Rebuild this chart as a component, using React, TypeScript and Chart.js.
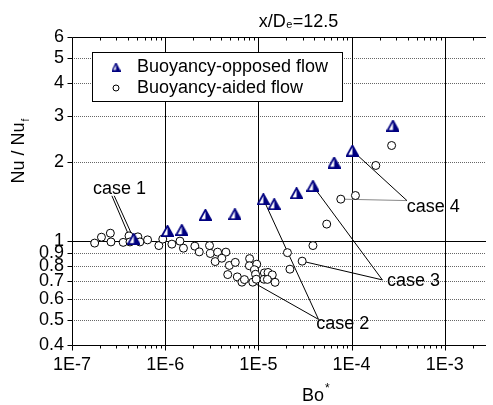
import React, { useEffect, useRef } from "react";
import { Chart, registerables } from "chart.js";
Chart.register(...registerables);

const FONT = "'Liberation Sans', Arial, Helvetica, sans-serif";
const NAVY = "#000080";

const seriesLabels = ["Buoyancy-opposed flow", "Buoyancy-aided flow"];

const opposedX = [4.6e-7, 1.06e-6, 1.51e-6, 2.7e-6, 5.6e-6, 1.13e-5, 1.48e-5, 2.57e-5, 3.85e-5, 6.5e-5, 1.02e-4, 2.78e-4];
const opposedY = [1.017, 1.091, 1.1, 1.256, 1.264, 1.442, 1.38, 1.52, 1.62, 1.99, 2.21, 2.75];

const aidedX = [
  1.75e-7, 2.07e-7, 2.58e-7, 2.62e-7, 3.54e-7, 4.09e-7, 4.19e-7, 5.09e-7, 5.35e-7, 6.47e-7,
  8.55e-7, 9.42e-7, 1.18e-6, 1.44e-6, 1.57e-6, 2.08e-6, 2.32e-6, 2.99e-6, 3.05e-6, 3.65e-6,
  4.48e-6, 3.44e-6, 4.05e-6, 4.88e-6, 5.65e-6, 4.69e-6, 5.94e-6, 6.66e-6, 7.08e-6, 8.05e-6,
  8.0e-6, 9.6e-6, 9.1e-6, 9.32e-6, 8.71e-6, 9.48e-6, 1.16e-5, 1.27e-5, 1.41e-5, 1.15e-5,
  1.25e-5, 1.51e-5, 2.05e-5, 2.18e-5, 2.95e-5, 3.85e-5, 5.41e-5, 7.66e-5, 1.1e-4, 1.82e-4, 2.69e-4,
];
const aidedY = [
  0.98, 1.032, 1.069, 0.99, 0.986, 1.044, 0.99, 1.035, 0.99, 1.008,
  0.959, 1.015, 0.971, 0.997, 0.937, 0.954, 0.907, 0.959, 0.894, 0.905,
  0.905, 0.833, 0.858, 0.805, 0.827, 0.743, 0.728, 0.695, 0.711, 0.855,
  0.803, 0.814, 0.775, 0.745, 0.695, 0.713, 0.754, 0.757, 0.741, 0.713,
  0.712, 0.694, 0.901, 0.779, 0.836, 0.959, 1.158, 1.442, 1.489, 1.939, 2.311,
];

const xMin = 1e-7;
const xMax = 2.77e-3;
const yMin = 0.4;
const yMax = 6;
const xTickValues = [1e-7, 1e-6, 1e-5, 1e-4, 1e-3];
const xTickLabels = ["1E-7", "1E-6", "1E-5", "1E-4", "1E-3"];
const yTickValues = [0.4, 0.5, 0.6, 0.7, 0.8, 0.9, 1, 2, 3, 4, 5, 6];
const yTickLabels = ["0.4", "0.5", "0.6", "0.7", "0.8", "0.9", "1", "2", "3", "4", "5", "6"];

const caseNames = ["case 1", "case 2", "case 3", "case 4"];
const caseTextX = [1.68e-7, 4.17e-5, 2.4e-4, 3.91e-4];
const caseTextY = [1.58, 0.481, 0.703, 1.348];

// leader lines: from label anchor to a data point
const leaderFromX = [2.68e-7, 2.84e-7, 4.42e-5, 4.42e-5, 2.14e-4, 2.14e-4, 3.93e-4, 3.93e-4];
const leaderFromY = [1.485, 1.485, 0.501, 0.501, 0.709, 0.709, 1.424, 1.424];
const leaderToX = [4.09e-7, 4.6e-7, 1.13e-5, 8.71e-6, 3.85e-5, 2.95e-5, 1.02e-4, 7.66e-5];
const leaderToY = [1.044, 1.017, 1.442, 0.695, 1.62, 0.836, 2.21, 1.442];
const leaderGray = [false, false, false, false, false, false, false, true];

function makeTri(w: number, h: number, lw: number) {
  const c = document.createElement("canvas");
  c.width = w;
  c.height = h;
  const g = c.getContext("2d")!;
  const p = lw / 2;
  const ax = w / 2, ay = p, blx = p, by = h - p, brx = w - p;
  g.beginPath(); g.moveTo(ax, ay); g.lineTo(brx, by); g.lineTo(blx, by); g.closePath();
  g.fillStyle = "#fff"; g.fill();
  g.beginPath(); g.moveTo(ax, ay); g.lineTo(brx, by); g.lineTo(ax, by); g.closePath();
  g.fillStyle = NAVY; g.fill();
  g.beginPath(); g.moveTo(ax, ay); g.lineTo(brx, by); g.lineTo(blx, by); g.closePath();
  g.lineWidth = lw; g.strokeStyle = NAVY; g.lineJoin = "miter"; g.stroke();
  return c;
}

export default function App() {
  const ref = useRef<HTMLCanvasElement | null>(null);

  useEffect(() => {
    const canvas = ref.current;
    if (!canvas) return;
    const tri = makeTri(13, 12, 1.8);
    const triSmall = makeTri(9, 9, 1.4);

    const minorX: number[] = [];
    xTickValues.forEach((d) => {
      for (let m = 2; m <= 9; m++) if (d * m <= xMax) minorX.push(d * m);
    });

    const framePlugin = {
      id: "frame",
      beforeDraw(chart: any) {
        const ctx = chart.ctx;
        ctx.save();
        ctx.fillStyle = "#fff";
        ctx.fillRect(0, 0, chart.width, chart.height);
        ctx.restore();
      },
      beforeDatasetsDraw(chart: any) {
        const { ctx, chartArea, scales } = chart;
        const { left, right, top, bottom } = chartArea;
        const x = scales.x, y = scales.y;
        ctx.save();
        ctx.lineWidth = 1;
        yTickValues.forEach((v) => {
          if (v === yMin || v === yMax) return;
          const py = Math.round(y.getPixelForValue(v)) + 0.5;
          ctx.beginPath();
          if (v === 1) { ctx.setLineDash([]); ctx.strokeStyle = "#000"; }
          else { ctx.setLineDash([1, 1]); ctx.strokeStyle = "#666"; }
          ctx.moveTo(left, py); ctx.lineTo(right, py); ctx.stroke();
        });
        ctx.setLineDash([]);
        ctx.strokeStyle = "#000";
        xTickValues.forEach((v) => {
          if (v === xMin) return;
          const px = Math.round(x.getPixelForValue(v)) + 0.5;
          ctx.beginPath(); ctx.moveTo(px, top); ctx.lineTo(px, bottom); ctx.stroke();
        });
        ctx.restore();
      },
      afterDraw(chart: any) {
        const { ctx, chartArea, scales } = chart;
        const { left, right, top, bottom } = chartArea;
        const x = scales.x, y = scales.y;
        ctx.save();
        ctx.strokeStyle = "#000";
        ctx.lineWidth = 1;
        const L = Math.round(left) + 0.5;
        const B = Math.round(bottom) + 0.5;
        const T = Math.round(top) + 0.5;
        ctx.beginPath();
        ctx.moveTo(L, T); ctx.lineTo(L, B);
        ctx.moveTo(L, B); ctx.lineTo(right, B);
        ctx.moveTo(L, T); ctx.lineTo(right, T);
        // left ticks
        yTickValues.forEach((v) => {
          const py = Math.round(y.getPixelForValue(v)) + 0.5;
          ctx.moveTo(L - 5, py); ctx.lineTo(L, py);
        });
        // bottom & top ticks
        xTickValues.forEach((v) => {
          const px = Math.round(x.getPixelForValue(v)) + 0.5;
          ctx.moveTo(px, B); ctx.lineTo(px, B + 5);
        });
        minorX.forEach((v) => {
          const px = Math.round(x.getPixelForValue(v)) + 0.5;
          ctx.moveTo(px, B); ctx.lineTo(px, B + 3);
          ctx.moveTo(px, T); ctx.lineTo(px, T + 3);
        });
        ctx.stroke();

        // legend
        ctx.fillStyle = "#fff";
        ctx.fillRect(92, 52, 250, 49);
        ctx.strokeRect(92.5, 52.5, 250, 49);
        ctx.drawImage(triSmall, 116 - triSmall.width / 2, 67 - triSmall.height / 2);
        ctx.beginPath();
        ctx.arc(116, 88, 3, 0, Math.PI * 2);
        ctx.fillStyle = "#fff"; ctx.fill(); ctx.stroke();
        ctx.fillStyle = "#000";
        ctx.font = `18px ${FONT}`;
        ctx.textAlign = "left";
        ctx.textBaseline = "middle";
        ctx.fillText(seriesLabels[0], 137, 67);
        ctx.fillText(seriesLabels[1], 137, 88);

        // case labels
        caseNames.forEach((n, i) => {
          ctx.fillText(n, x.getPixelForValue(caseTextX[i]), y.getPixelForValue(caseTextY[i]));
        });

        // top title x/De=12.5
        ctx.textBaseline = "alphabetic";
        const p1 = "x/D", p2 = "e", p3 = "=12.5";
        ctx.font = `18px ${FONT}`;
        const w1 = ctx.measureText(p1).width, w3 = ctx.measureText(p3).width;
        ctx.font = `11px ${FONT}`;
        const w2 = ctx.measureText(p2).width;
        let sx = 298 - (w1 + w2 + w3) / 2;
        ctx.font = `18px ${FONT}`;
        ctx.fillText(p1, sx, 27); sx += w1;
        ctx.font = `11px ${FONT}`;
        ctx.fillText(p2, sx + 0.5, 28); sx += w2 + 1;
        ctx.font = `18px ${FONT}`;
        ctx.fillText(p3, sx, 27);

        // x title Bo*
        ctx.font = `18px ${FONT}`;
        const bw = ctx.measureText("Bo").width;
        ctx.fillText("Bo", 302, 401);
        ctx.font = `12px ${FONT}`;
        ctx.fillText("*", 302 + bw + 1, 392);

        // y title Nu / Nu_f
        ctx.save();
        ctx.translate(23.5, 151);
        ctx.rotate(-Math.PI / 2);
        ctx.font = `18px ${FONT}`;
        const t = "Nu / Nu";
        const tw = ctx.measureText(t).width;
        ctx.font = `10px ${FONT}`;
        const fw = ctx.measureText("f").width;
        const st = -(tw + fw + 1) / 2;
        ctx.font = `18px ${FONT}`;
        ctx.fillText(t, st, 0);
        ctx.font = `10px ${FONT}`;
        ctx.fillText("f", st + tw + 1, 5);
        ctx.restore();

        ctx.restore();
      },
    };

    const leaderSets = leaderFromX.map((fx, i) => ({
      label: "leader" + i,
      data: [
        { x: fx, y: leaderFromY[i] },
        { x: leaderToX[i], y: leaderToY[i] },
      ],
      showLine: true,
      pointRadius: 0,
      borderColor: leaderGray[i] ? "#888" : "#000",
      borderWidth: 1,
      order: 10,
    }));

    const chart = new Chart(canvas, {
      type: "scatter",
      data: {
        datasets: [
          {
            label: seriesLabels[0],
            data: opposedX.map((v, i) => ({ x: v, y: opposedY[i] })),
            pointStyle: tri as any,
            pointRadius: 6,
            order: 1,
          },
          {
            label: seriesLabels[1],
            data: aidedX.map((v, i) => ({ x: v, y: aidedY[i] })),
            pointStyle: "circle",
            pointRadius: 4,
            borderColor: "#000",
            backgroundColor: "#fff",
            borderWidth: 1,
            order: 2,
          },
          ...leaderSets,
        ] as any,
      },
      options: {
        responsive: false,
        animation: false,
        devicePixelRatio: 1,
        layout: { padding: { top: 37, left: 0, right: 0, bottom: 0 } },
        plugins: {
          legend: { display: false },
          tooltip: { enabled: false },
          title: { display: false },
        },
        scales: {
          x: {
            type: "logarithmic",
            position: "bottom",
            min: xMin,
            max: xMax,
            grid: { display: false, drawTicks: false },
            border: { display: false },
            afterBuildTicks: (s: any) => {
              s.ticks = xTickValues.map((v) => ({ value: v }));
            },
            afterFit: (s: any) => {
              s.height = 60;
            },
            ticks: {
              autoSkip: false,
              maxRotation: 0,
              minRotation: 0,
              padding: 9,
              color: "#000",
              font: { family: FONT, size: 18 },
              callback: (_v: any, i: number) => xTickLabels[i],
            },
          },
          y: {
            type: "logarithmic",
            position: "left",
            min: yMin,
            max: yMax,
            grid: { display: false, drawTicks: false },
            border: { display: false },
            afterBuildTicks: (s: any) => {
              s.ticks = yTickValues.map((v) => ({ value: v }));
            },
            afterFit: (s: any) => {
              s.width = 72;
            },
            ticks: {
              autoSkip: false,
              padding: 8,
              color: "#000",
              font: { family: FONT, size: 18 },
              callback: (_v: any, i: number) => yTickLabels[i],
            },
          },
        },
      } as any,
      plugins: [framePlugin],
    });

    return () => chart.destroy();
  }, []);

  return (
    <div style={{ position: "fixed", left: 0, top: 0, width: 493, height: 405, background: "#fff", overflow: "hidden" }}>
      <canvas ref={ref} width={493} height={405} style={{ display: "block", width: 493, height: 405 }} />
    </div>
  );
}
